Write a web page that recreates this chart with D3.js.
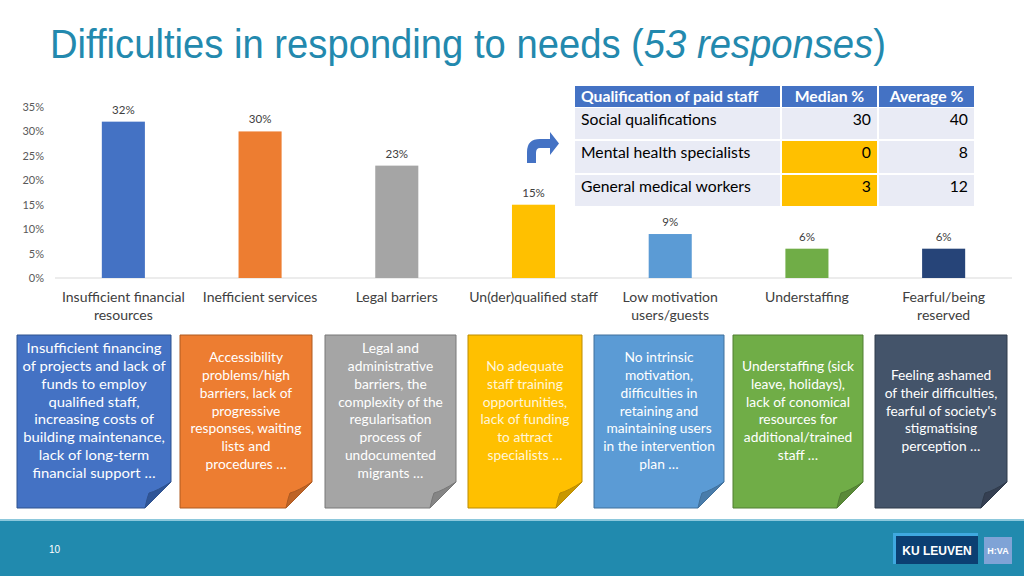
<!DOCTYPE html>
<html>
<head>
<meta charset="utf-8">
<script src="https://cdn.jsdelivr.net/npm/d3@7"></script>
<style>
    body { margin: 0; background: #ffffff; }
    svg { display: block; }
</style>
</head>
<body>
<div id="chart"></div>
<script>
// chart data
const categories = [
    ["Insufficient financial", "resources"],
    ["Inefficient services"],
    ["Legal barriers"],
    ["Un(der)qualified staff"],
    ["Low motivation", "users/guests"],
    ["Understaffing"],
    ["Fearful/being", "reserved"]
];
const shares = [32, 30, 23, 15, 9, 6, 6];
const yTicks = [0, 5, 10, 15, 20, 25, 30, 35];
const barColors = ["#4472C4", "#ED7D31", "#A5A5A5", "#FFC000", "#5B9BD5", "#70AD47", "#264478"];

// table data
const tableHeader = ["Qualification of paid staff", "Median %", "Average %"];
const tableRows = ["Social qualifications", "Mental health specialists", "General medical workers"];
const medianValues = [30, 0, 3];
const averageValues = [40, 8, 12];

// note texts under each bar
const notes = [
    ["Insufficient financing", "of projects and lack of", "funds to employ", "qualified staff,", "increasing costs of", "building maintenance,", "lack of long-term", "financial support …"],
    ["Accessibility", "problems/high", "barriers, lack of", "progressive", "responses, waiting", "lists and", "procedures …"],
    ["Legal and", "administrative", "barriers, the", "complexity of the", "regularisation", "process of", "undocumented", "migrants …"],
    ["No adequate", "staff training", "opportunities,", "lack of funding", "to attract", "specialists …"],
    ["No intrinsic", "motivation,", "difficulties in", "retaining and", "maintaining users", "in the intervention", "plan …"],
    ["Understaffing (sick", "leave, holidays),", "lack of conomical", "resources for", "additional/trained", "staff …"],
    ["Feeling ashamed", "of their difficulties,", "fearful of society's", "stigmatising", "perception …"]
];

const W = 1024, H = 576;
const svg = d3.select("#chart").append("svg")
    .attr("width", W)
    .attr("height", H);

const bodyFont = "Lato, 'Open Sans', sans-serif";

// the slide is a little wider than its fonts, so text gets stretched sideways
function addText(parent, x, y, str, opt) {
    const g = parent.append("g")
        .attr("transform", `translate(${x},${y}) scale(${opt.sx || 1},1)`);
    const t = g.append("text")
        .attr("text-anchor", opt.anchor || "start")
        .attr("fill", opt.fill || "#404040")
        .style("font-family", opt.font || bodyFont)
        .style("font-size", opt.size + "px");
    if (opt.bold) t.style("font-weight", "bold");
    if (str !== null) t.text(str);
    return t;
}

// title
const title = addText(svg, 50, 58, null, {
    sx: 0.955, size: 40, fill: "#2389AE",
    font: "'Liberation Sans', Arial, sans-serif"
});
title.append("tspan").text("Difficulties in responding to needs (");
title.append("tspan").style("font-style", "italic").text("53 responses");
title.append("tspan").text(")");

// bar chart
const x = d3.scaleBand()
    .domain(d3.range(categories.length))
    .range([55, 1012])
    .paddingInner(0.685)
    .paddingOuter(0.3425);

const y = d3.scaleLinear()
    .domain([0, 35])
    .range([278, 107]);

const yAxis = svg.append("g")
    .attr("transform", "translate(44,0)")
    .call(d3.axisLeft(y).tickValues(yTicks).tickFormat(d => d + "%").tickSize(0).tickPadding(0));
yAxis.select(".domain").remove();
yAxis.selectAll("text")
    .attr("fill", "#595959")
    .style("font-family", bodyFont)
    .style("font-size", "11px");

svg.append("line")
    .attr("x1", 55).attr("x2", 1012)
    .attr("y1", y(0)).attr("y2", y(0))
    .attr("stroke", "#D9D9D9")
    .attr("stroke-width", 1);

svg.selectAll(".bar")
    .data(shares)
    .enter().append("rect")
    .attr("class", "bar")
    .attr("x", (d, i) => x(i))
    .attr("y", d => y(d))
    .attr("width", x.bandwidth())
    .attr("height", d => y(0) - y(d))
    .attr("fill", (d, i) => barColors[i]);

shares.forEach((d, i) => {
    addText(svg, x(i) + x.bandwidth() / 2, y(d) - 8, d + "%", {
        sx: 1.05, size: 11, anchor: "middle", fill: "#404040"
    });
});

categories.forEach((lines, i) => {
    lines.forEach((line, k) => {
        addText(svg, x(i) + x.bandwidth() / 2, 302 + k * 18, line, {
            sx: 1.08, size: 13, anchor: "middle", fill: "#404040"
        });
    });
});

// arrow pointing to the table
svg.append("path")
    .attr("d", "M527,163 L527,152 Q527,139 540,139 L550,139 L550,132 L559,143.5 L550,155 L550,148 L540,148 Q536,148 536,153 L536,163 Z")
    .attr("fill", "#4472C4");

// table
const colX = [575, 782, 879, 976];
const rowY = [86, 108, 141, 175, 208];
const tbl = svg.append("g");

tableHeader.forEach((h, c) => {
    tbl.append("rect")
        .attr("x", colX[c]).attr("y", rowY[0])
        .attr("width", colX[c + 1] - colX[c] - 2)
        .attr("height", rowY[1] - rowY[0] - 1)
        .attr("fill", "#4472C4");
    addText(tbl, c === 0 ? colX[c] + 6 : (colX[c] + colX[c + 1] - 2) / 2, rowY[0] + 16, h, {
        sx: 1.05, size: 15, bold: true, fill: "#ffffff",
        anchor: c === 0 ? "start" : "middle"
    });
});

tableRows.forEach((r, i) => {
    const cells = [r, medianValues[i], averageValues[i]];
    cells.forEach((v, c) => {
        tbl.append("rect")
            .attr("x", colX[c]).attr("y", rowY[i + 1])
            .attr("width", colX[c + 1] - colX[c] - 2)
            .attr("height", rowY[i + 2] - rowY[i + 1] - 2)
            .attr("fill", c === 1 && i > 0 ? "#FFC000" : "#E9EBF5");
        addText(tbl, c === 0 ? colX[c] + 6 : colX[c + 1] - 8, rowY[i + 1] + 16.5, v, {
            sx: 1.05, size: 15, fill: "#000000",
            anchor: c === 0 ? "start" : "end"
        });
    });
});

// folded notes under the bars
const noteBoxes = [
    { x: 17, w: 154, size: 14, fill: "#4472C4", line: "#2F528F", fold: "#2F5597" },
    { x: 180, w: 132, size: 13, fill: "#ED7D31", line: "#AE5A21", fold: "#BE6427" },
    { x: 325, w: 131, size: 13, fill: "#A5A5A5", line: "#787878", fold: "#858585" },
    { x: 468, w: 114, size: 13, fill: "#FFC000", line: "#BC8C00", fold: "#C99800" },
    { x: 594, w: 130, size: 13, fill: "#5B9BD5", line: "#41719C", fold: "#497CAA" },
    { x: 733, w: 130, size: 13, fill: "#70AD47", line: "#507E32", fold: "#5A8A39" },
    { x: 875, w: 132, size: 13, fill: "#44546A", line: "#2F3B4B", fold: "#353F52" }
];
const noteTop = 335, noteH = 173, foldSize = 26;

noteBoxes.forEach((b, i) => {
    const g = svg.append("g");
    const r = b.x + b.w, bot = noteTop + noteH;
    g.append("path")
        .attr("d", `M${b.x},${noteTop} H${r} V${bot - foldSize} L${r - foldSize},${bot} H${b.x} Z`)
        .attr("fill", b.fill)
        .attr("stroke", b.line)
        .attr("stroke-width", 1);
    g.append("path")
        .attr("d", `M${r},${bot - foldSize} L${r - foldSize},${bot} Q${r - 24},${bot - 10} ${r - 22},${bot - 15} Q${r - 14},${bot - 17} ${r},${bot - foldSize} Z`)
        .attr("fill", b.fold)
        .attr("stroke", b.line)
        .attr("stroke-width", 1);
    const lines = notes[i];
    const lh = 17.9;
    const startY = 411 - (lines.length - 1) * lh / 2 + 4.5;
    lines.forEach((line, k) => {
        addText(g, b.x + b.w / 2, startY + k * lh, line, {
            sx: 1.06, size: b.size, anchor: "middle",
            fill: i === 3 ? "#FFF6DA" : "#ffffff"
        });
    });
});

// footer band
svg.append("rect")
    .attr("x", 0).attr("y", 519)
    .attr("width", W).attr("height", 2)
    .attr("fill", "#8CC8DC");
svg.append("rect")
    .attr("x", 0).attr("y", 521)
    .attr("width", W).attr("height", H - 521)
    .attr("fill", "#218AAE");
svg.append("text")
    .attr("x", 49).attr("y", 553)
    .attr("fill", "#ffffff")
    .style("font-family", "'Liberation Sans', Arial, sans-serif")
    .style("font-size", "10px")
    .text("10");

// logos
svg.append("rect")
    .attr("x", 893).attr("y", 533)
    .attr("width", 85).attr("height", 31)
    .attr("fill", "#3FA9E0");
svg.append("rect")
    .attr("x", 896).attr("y", 536)
    .attr("width", 82).attr("height", 28)
    .attr("fill", "#0B3F72");
svg.append("text")
    .attr("x", 937).attr("y", 555)
    .attr("text-anchor", "middle")
    .attr("fill", "#ffffff")
    .style("font-family", "'Liberation Sans Narrow', 'Liberation Sans', Arial, sans-serif")
    .style("font-weight", "bold")
    .style("font-size", "12px")
    .text("KU LEUVEN");
svg.append("rect")
    .attr("x", 984).attr("y", 537)
    .attr("width", 28).attr("height", 27)
    .attr("fill", "#7FA3D6");
svg.append("text")
    .attr("x", 998).attr("y", 554)
    .attr("text-anchor", "middle")
    .attr("fill", "#ffffff")
    .style("font-family", "'Liberation Sans Narrow', 'Liberation Sans', Arial, sans-serif")
    .style("font-weight", "bold")
    .style("font-size", "9px")
    .text("H:VA");
</script>
</body>
</html>
